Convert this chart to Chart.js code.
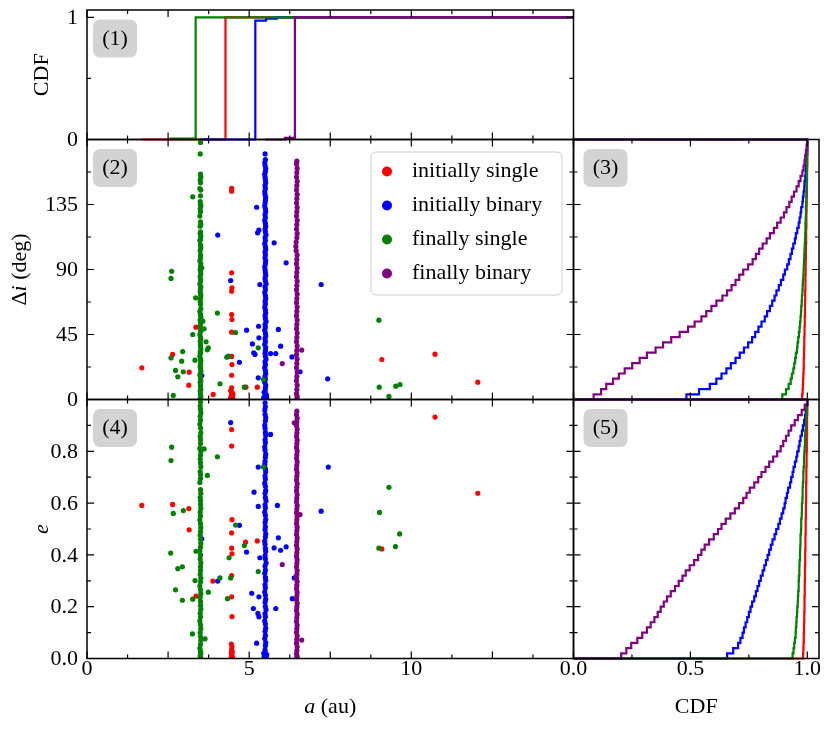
<!DOCTYPE html>
<html>
<head>
<meta charset="utf-8">
<script src="https://cdn.jsdelivr.net/npm/chart.js@4.4.0/dist/chart.umd.min.js"></script>
<style>
  body { margin: 0; background: #fff; }
  #wrap { position: relative; width: 830px; height: 729px; }
  #wrap canvas { position: absolute; left: 0; top: 0; }
</style>
</head>
<body>
<div id="wrap">
  <canvas id="p1" width="830" height="729"></canvas>
  <canvas id="p2" width="830" height="729"></canvas>
  <canvas id="p3" width="830" height="729"></canvas>
  <canvas id="p4" width="830" height="729"></canvas>
  <canvas id="p5" width="830" height="729"></canvas>
</div>
<script>
// ---- series names ----
var groupLabels = ['initially single', 'initially binary', 'finally single', 'finally binary'];

// ---- panel (1): CDF of a, step corners [a, CDF] ----
var cdfAIniSingle = [[1.69, 0], [4.27, 1], [15, 1]];
var cdfAIniBinary = [[3.5, 0], [5.19, 0.973], [5.52, 0.99], [5.85, 1], [15, 1]];
var cdfAFinSingle = [[2.55, 0], [2.58, 0.008], [3.35, 1], [15, 1]];
var cdfAFinBinary = [[5.5, 0], [6.1, 0.014], [6.41, 1], [15, 1]];

// ---- panel (2): [a, delta i] ----
var diIniSingle = [
  [4.46,146.1],[4.46,144.2],[4.46,87.7],[4.47,77.3],[4.46,75.0],[4.46,58.8],[4.47,55.4],[4.46,46.6],
  [4.46,29.8],[4.47,24.2],[4.46,16.8],[4.46,8.1],[4.47,4.6],[4.46,1.2],
  [4.43,6],[4.47,5],[4.50,3.5],[4.45,2.5],[4.48,2],[4.44,1.5],[4.49,1],[4.46,0.5],[4.50,0.3],[4.42,0.2],
  [3.36,50.1],[2.64,31.2],[1.69,21.9],[3.15,18.9],[3.14,9.9],[3.89,3.5],[4.90,8.5],[5.25,8.5],
  [9.09,27.7],[10.73,31.4],[12.05,12.0]
];
var diIniBinary = [
  [5.49,170],[5.50,166],[5.48,164],[5.49,162],[5.51,160],[5.50,158],[5.48,156],[5.49,154],[5.50,152],[5.51,150],
  [5.49,148],[5.50,146],[5.48,144],[5.49,142],[5.51,140],[5.50,138],[5.49,136],[5.48,134],[5.50,132],[5.51,130],
  [5.49,128],[5.50,126],[5.48,124],[5.50,122],[5.51,120],[5.49,118],[5.50,116],[5.52,114],[5.49,112],[5.50,110],
  [5.48,108],[5.50,106],[5.51,104],[5.49,102],[5.50,100],[5.49,98],[5.51,96],[5.50,94],[5.48,92],[5.49,90],
  [5.50,88],[5.51,86],[5.49,84],[5.50,82],[5.52,80],[5.49,78],[5.50,76],[5.48,74],[5.50,72],[5.51,70],
  [5.49,68],[5.50,66],[5.48,64],[5.50,62],[5.51,60],[5.49,58],[5.50,56],[5.52,54],[5.49,52],[5.50,50],
  [5.48,48],[5.50,46],[5.51,44],[5.49,42],[5.50,40],[5.48,38],[5.51,36],[5.50,34],[5.49,32],[5.50,30],
  [5.52,28],[5.49,26],[5.50,24],[5.48,22],[5.50,20],[5.51,18],[5.49,16],[5.50,14],[5.48,12],[5.51,10],
  [5.50,8],[5.49,6],[5.50,4],[5.52,3],[5.48,2],[5.50,1],[5.49,0.5],
  [5.46,5],[5.53,3],[5.45,1.5],[5.54,1],[5.47,0.3],
  [5.23,133.1],[4.03,113.8],[5.26,115.4],[5.30,117.2],[5.77,108.5],[6.14,94.6],[7.22,79.6],[4.43,82.4],
  [5.33,79.6],[4.92,48.0],[5.29,50.7],[5.30,42.7],[5.90,48.5],[5.10,38.5],[5.97,36.9],[5.66,31.8],
  [5.82,31.8],[5.14,32.3],[5.18,31.2],[4.70,25.8],[3.54,16.6],[5.28,15.0],[7.42,14.3],[6.57,19.2],[6.32,29.5]
];
var diFinSingle = [
  [3.50,178],[3.49,170],[3.50,156],[3.51,154],[3.49,152],[3.50,150],[3.48,146],[3.51,145],[3.50,141],[3.49,137],
  [3.50,135],[3.51,134],[3.49,132],[3.50,130],[3.48,127],[3.50,123],[3.51,121],[3.49,120],[3.50,116],[3.49,115],
  [3.51,113],[3.50,111],[3.48,110],[3.50,107],[3.51,105],[3.49,103],[3.50,100],[3.50,98],[3.48,96],[3.51,94],
  [3.50,92],[3.49,90],[3.50,89],[3.51,87],[3.49,85],[3.50,83],[3.50,82],[3.48,80],[3.51,78],[3.50,77],
  [3.49,75],[3.50,73],[3.51,72],[3.50,70],[3.49,68],[3.50,66],[3.51,63],[3.48,61],[3.50,59],[3.51,57],
  [3.49,55],[3.50,54],[3.50,52],[3.49,50],[3.51,48],[3.50,47],[3.48,45],[3.50,43],[3.51,42],[3.49,40],
  [3.50,38],[3.50,37],[3.51,35],[3.49,33],[3.50,32],[3.48,30],[3.50,28],[3.51,27],[3.50,25],[3.49,23],
  [3.50,22],[3.51,20],[3.50,18],[3.48,17],[3.50,15],[3.51,13],[3.49,12],[3.50,10],[3.50,9],[3.51,7],
  [3.49,6],[3.50,4],[3.50,3],[3.51,2],[3.49,1],[3.50,0.5],
  [3.26,140.3],[2.61,88.8],[2.59,83.8],[3.35,70.4],[3.54,91.2],[4.02,59.8],[3.57,54.2],[3.26,45.0],
  [3.61,48.9],[4.58,46.4],[3.67,39.9],[3.74,35.8],[3.71,34.4],[2.95,33.2],[2.59,28.8],[2.92,26.5],
  [3.33,27.2],[2.73,20.1],[2.97,19.2],[2.80,15.7],[4.10,10.9],[2.66,2.8],[4.36,30.0],[4.31,29.3],
  [4.85,8.5],[5.28,35.8],[5.44,13.8],
  [9.00,54.9],[9.01,8.5],[9.52,9.2],[9.65,10.4],[9.31,2.1]
];
var diFinBinary = [
  [6.47,165],[6.46,163],[6.48,160],[6.47,157],[6.46,154],[6.48,151],[6.47,148],[6.46,145],[6.48,142],[6.47,139],
  [6.46,136],[6.48,133],[6.47,130],[6.46,127],[6.48,124],[6.47,121],[6.46,118],[6.48,115],[6.47,112],[6.45,109],
  [6.44,106],[6.45,103],[6.48,100],[6.47,97],[6.46,94],[6.48,91],[6.47,88],[6.46,85],[6.48,82],[6.47,79],
  [6.46,76],[6.48,73],[6.47,70],[6.46,67],[6.48,64],[6.47,61],[6.46,58],[6.48,55],[6.47,52],[6.46,49],
  [6.48,46],[6.47,43],[6.46,40],[6.48,37],[6.47,34],[6.46,31],[6.48,28],[6.47,25],[6.46,22],[6.48,19],
  [6.47,16],[6.46,13],[6.48,10],[6.47,7],[6.46,4],[6.48,2],[6.47,0.5],
  [6.02,24.9],[6.62,34.2]
];

// ---- panel (4): [a, e] ----
var eIniSingle = [
  [4.46,0.884],[4.46,0.820],[4.47,0.536],[4.46,0.485],[4.46,0.426],[4.47,0.404],[4.46,0.320],[4.46,0.238],
  [4.47,0.162],[4.45,0.056],[4.47,0.045],[4.46,0.034],[4.48,0.026],[4.45,0.021],[4.47,0.015],[4.46,0.009],
  [4.48,0.005],[4.45,0.003],[4.47,0.001],
  [1.69,0.591],[2.64,0.595],[3.14,0.579],[3.15,0.497],[4.89,0.449],[5.25,0.454],[3.88,0.299],[3.36,0.241],
  [10.73,0.932],[12.05,0.638],[9.09,0.423]
];
var eIniBinary = [
  [5.49,0.987],[5.50,0.972],[5.48,0.959],[5.49,0.943],[5.51,0.930],[5.50,0.917],[5.48,0.901],[5.49,0.889],
  [5.50,0.873],[5.51,0.861],[5.49,0.845],[5.50,0.833],[5.48,0.817],[5.49,0.805],[5.51,0.789],[5.50,0.777],
  [5.49,0.761],[5.48,0.749],[5.50,0.733],[5.51,0.721],[5.49,0.705],[5.50,0.693],[5.48,0.677],[5.50,0.665],
  [5.51,0.649],[5.49,0.637],[5.50,0.621],[5.52,0.609],[5.49,0.593],[5.50,0.581],[5.48,0.565],[5.50,0.553],
  [5.51,0.537],[5.49,0.525],[5.50,0.509],[5.49,0.497],[5.51,0.481],[5.50,0.469],[5.48,0.453],[5.49,0.441],
  [5.50,0.425],[5.51,0.413],[5.49,0.397],[5.50,0.385],[5.52,0.369],[5.49,0.357],[5.50,0.341],[5.48,0.329],
  [5.50,0.313],[5.51,0.301],[5.49,0.285],[5.50,0.273],[5.48,0.257],[5.50,0.245],[5.51,0.229],[5.49,0.217],
  [5.50,0.201],[5.52,0.189],[5.49,0.173],[5.50,0.161],[5.48,0.145],[5.50,0.133],[5.51,0.117],[5.49,0.105],
  [5.50,0.089],[5.48,0.077],[5.51,0.061],[5.50,0.049],[5.49,0.033],[5.50,0.021],[5.52,0.011],[5.49,0.003],
  [5.45,0.020],[5.54,0.015],[5.46,0.008],[5.53,0.004],
  [4.43,0.911],[5.66,0.865],[5.28,0.739],[7.44,0.739],[5.15,0.642],[5.28,0.587],[5.87,0.591],[7.22,0.569],
  [4.70,0.514],[3.54,0.462],[4.92,0.411],[5.90,0.466],[5.77,0.427],[5.97,0.418],[6.14,0.431],[5.33,0.389],
  [4.03,0.299],[5.08,0.252],[5.30,0.238],[5.13,0.193],[5.82,0.193],[5.27,0.174],[5.30,0.161],[5.23,0.059],
  [6.39,0.311],[6.33,0.231]
];
var eFinSingle = [
  [3.50,0.990],[3.49,0.975],[3.50,0.962],[3.51,0.948],[3.49,0.935],[3.50,0.920],[3.48,0.905],[3.50,0.890],
  [3.51,0.872],[3.49,0.858],[3.50,0.845],[3.50,0.830],[3.48,0.812],[3.51,0.800],[3.50,0.785],[3.49,0.770],
  [3.50,0.755],[3.51,0.740],[3.49,0.722],[3.50,0.710],[3.50,0.695],[3.48,0.680],[3.50,0.652],[3.51,0.638],
  [3.49,0.622],[3.50,0.610],[3.50,0.595],[3.51,0.580],[3.49,0.565],[3.50,0.550],[3.48,0.535],[3.50,0.520],
  [3.51,0.505],[3.50,0.490],[3.49,0.476],[3.50,0.460],[3.51,0.445],[3.50,0.430],[3.48,0.415],[3.50,0.400],
  [3.49,0.385],[3.51,0.370],[3.50,0.355],[3.50,0.340],[3.49,0.325],[3.51,0.310],[3.50,0.295],[3.48,0.280],
  [3.50,0.265],[3.51,0.250],[3.49,0.235],[3.50,0.220],[3.50,0.205],[3.51,0.190],[3.49,0.175],[3.50,0.160],
  [3.48,0.145],[3.50,0.130],[3.51,0.115],[3.49,0.100],[3.50,0.085],[3.51,0.070],[3.50,0.055],[3.48,0.040],
  [3.50,0.028],[3.51,0.018],[3.49,0.010],[3.50,0.003],
  [2.61,0.816],[2.59,0.764],[4.02,0.779],[3.61,0.809],[3.71,0.707],[2.66,0.560],[2.97,0.571],[4.58,0.515],
  [3.36,0.414],[2.58,0.407],[4.85,0.436],[4.38,0.389],[2.80,0.347],[2.94,0.354],[3.33,0.301],[3.74,0.256],
  [4.10,0.311],[4.43,0.311],[2.73,0.265],[2.94,0.225],[3.26,0.229],[4.33,0.231],[3.25,0.095],[3.64,0.076],
  [5.28,0.336],[5.44,0.739],
  [9.31,0.661],[9.02,0.564],[9.64,0.481],[9.51,0.432],[9.00,0.426]
];
var eFinBinary = [
  [6.47,0.955],[6.46,0.941],[6.48,0.927],[6.47,0.913],[6.46,0.899],[6.48,0.885],[6.47,0.871],[6.46,0.857],
  [6.48,0.843],[6.47,0.829],[6.46,0.815],[6.48,0.801],[6.47,0.787],[6.46,0.773],[6.48,0.759],[6.47,0.745],
  [6.46,0.731],[6.48,0.717],[6.47,0.703],[6.46,0.689],[6.48,0.675],[6.47,0.661],[6.46,0.647],[6.48,0.633],
  [6.47,0.619],[6.46,0.605],[6.48,0.591],[6.47,0.577],[6.46,0.563],[6.48,0.549],[6.47,0.535],[6.46,0.521],
  [6.48,0.507],[6.47,0.493],[6.46,0.479],[6.48,0.465],[6.47,0.451],[6.46,0.437],[6.48,0.423],[6.47,0.409],
  [6.46,0.395],[6.48,0.381],[6.47,0.367],[6.46,0.353],[6.48,0.339],[6.47,0.325],[6.46,0.311],[6.48,0.297],
  [6.47,0.283],[6.46,0.269],[6.48,0.255],[6.47,0.241],[6.46,0.227],[6.48,0.213],[6.47,0.199],[6.46,0.185],
  [6.48,0.171],[6.47,0.157],[6.46,0.143],[6.48,0.129],[6.47,0.115],[6.46,0.101],[6.48,0.087],[6.47,0.073],
  [6.46,0.059],[6.48,0.045],[6.47,0.031],[6.46,0.018],[6.48,0.008],[6.47,0.002],
  [6.02,0.363],[6.39,0.910],[6.57,0.556],[6.62,0.071]
];

// ---- panel (3): cumulative fraction per delta-i bin (50 bins over 0-180 deg) ----
var diBinWidth = 3.6;
var cdfDiIniSingle = [0.978,0.980,0.981,0.982,0.983,0.984,0.985,0.985,0.986,0.986,
  0.987,0.987,0.988,0.988,0.989,0.989,0.990,0.990,0.990,0.991,
  0.991,0.992,0.992,0.992,0.993,0.993,0.993,0.994,0.994,0.994,
  0.995,0.995,0.995,0.996,0.996,0.996,0.997,0.997,0.997,0.998,
  0.998,0.998,0.999,0.999,0.999,1.000,1.000,1.000,1.000,1.000];
var cdfDiIniBinary = [0.483,0.537,0.583,0.611,0.633,0.654,0.673,0.693,0.711,0.729,
  0.747,0.764,0.777,0.791,0.804,0.818,0.828,0.840,0.850,0.860,
  0.868,0.878,0.887,0.897,0.904,0.914,0.921,0.928,0.934,0.940,
  0.947,0.951,0.957,0.963,0.967,0.971,0.974,0.979,0.981,0.984,
  0.987,0.988,0.991,0.993,0.994,0.996,0.997,0.999,1.000,1.000];
var cdfDiFinSingle = [0.893,0.909,0.920,0.929,0.934,0.940,0.944,0.948,0.951,0.956,
  0.958,0.961,0.964,0.967,0.969,0.971,0.973,0.974,0.976,0.977,
  0.979,0.980,0.981,0.983,0.984,0.985,0.986,0.987,0.988,0.989,
  0.990,0.991,0.992,0.992,0.993,0.994,0.994,0.995,0.996,0.996,
  0.997,0.997,0.998,0.998,0.999,0.999,0.999,1.000,1.000,1.000];
var cdfDiFinBinary = [0.086,0.118,0.140,0.169,0.194,0.219,0.251,0.283,0.314,0.351,
  0.383,0.418,0.454,0.490,0.518,0.547,0.568,0.590,0.611,0.637,
  0.657,0.676,0.693,0.709,0.726,0.747,0.766,0.780,0.794,0.809,
  0.826,0.840,0.857,0.871,0.886,0.900,0.911,0.923,0.933,0.943,
  0.954,0.963,0.971,0.979,0.984,0.988,0.991,0.994,0.997,1.000];

// ---- panel (5): cumulative fraction per e bin (50 bins over 0-1) ----
var eBinWidth = 0.02;
var cdfEIniSingle = [0.982,0.983,0.984,0.985,0.985,0.986,0.986,0.987,0.987,0.988,
  0.988,0.988,0.989,0.989,0.989,0.990,0.990,0.990,0.991,0.991,
  0.991,0.992,0.992,0.992,0.993,0.993,0.993,0.994,0.994,0.994,
  0.995,0.995,0.995,0.995,0.996,0.996,0.996,0.997,0.997,0.997,
  0.998,0.998,0.998,0.999,0.999,0.999,0.999,1.000,1.000,1.000];
var cdfEIniBinary = [0.657,0.683,0.704,0.714,0.723,0.729,0.736,0.743,0.750,0.757,
  0.764,0.773,0.780,0.787,0.794,0.801,0.809,0.816,0.823,0.830,
  0.837,0.844,0.851,0.860,0.867,0.876,0.883,0.890,0.897,0.903,
  0.907,0.913,0.918,0.926,0.931,0.937,0.941,0.947,0.953,0.957,
  0.963,0.967,0.971,0.977,0.981,0.986,0.990,0.993,0.997,1.000];
var cdfEFinSingle = [0.937,0.941,0.944,0.947,0.950,0.951,0.953,0.954,0.956,0.957,
  0.959,0.960,0.961,0.963,0.963,0.964,0.966,0.966,0.967,0.969,
  0.969,0.970,0.971,0.971,0.973,0.974,0.974,0.976,0.977,0.977,
  0.979,0.980,0.980,0.981,0.983,0.983,0.984,0.986,0.986,0.987,
  0.989,0.990,0.990,0.991,0.993,0.994,0.996,0.997,0.999,1.000];
var cdfEFinBinary = [0.204,0.226,0.247,0.273,0.294,0.314,0.330,0.346,0.360,0.373,
  0.386,0.400,0.416,0.434,0.450,0.466,0.480,0.497,0.516,0.533,
  0.547,0.561,0.580,0.600,0.618,0.633,0.651,0.671,0.690,0.708,
  0.726,0.740,0.754,0.773,0.790,0.804,0.821,0.837,0.854,0.871,
  0.886,0.897,0.909,0.920,0.931,0.946,0.960,0.976,0.989,1.000];

// ---- ticks ----
var aMajor = [0, 2.5, 5, 7.5, 10, 12.5, 15];
var aMinor = [1.25, 3.75, 6.25, 8.75, 11.25, 13.75];
var aTickLabels = [[0, '0'], [5, '5'], [10, '10']];
var cdfMajor = [0, 0.5, 1];
var cdfMinor = [0.25, 0.75];
var cdfTickLabels = [[0, '0.0'], [0.5, '0.5'], [1, '1.0']];
var cdfAMajor = [0, 1];
var cdfAMinor = [0.5];
var cdfATickLabels = [[0, '0'], [1, '1']];
var diMajor = [0, 45, 90, 135, 180];
var diMinor = [22.5, 67.5, 112.5, 157.5];
var diTickLabels = [[0, '0'], [45, '45'], [90, '90'], [135, '135']];
var eMajor = [0, 0.2, 0.4, 0.6, 0.8, 1.0];
var eMinor = [0.1, 0.3, 0.5, 0.7, 0.9];
var eTickLabels = [[0, '0.0'], [0.2, '0.2'], [0.4, '0.4'], [0.6, '0.6'], [0.8, '0.8']];

// ---- look ----
var W = 830, H = 729;
var colors = ['#ff0000', '#0000ff', '#008000', '#800080'];
var FONT = '"Liberation Serif", "DejaVu Serif", serif';

function xy(pairs) {
  return pairs.map(function (p) { return { x: p[0], y: p[1] }; });
}
// horizontal cumulative histogram outline: x = cdf, y = bin edges
function histOutline(cdf, width) {
  var pts = [{ x: 0, y: 0 }];
  cdf.forEach(function (c, k) { pts.push({ x: c, y: (k + 1) * width }); });
  pts.push({ x: 0, y: cdf.length * width });
  return pts;
}
function scatterSet(i, pairs) {
  return {
    label: groupLabels[i], data: xy(pairs), backgroundColor: colors[i],
    borderWidth: 0, pointRadius: 2.6, pointHoverRadius: 2.6, clip: 0, order: 4 - i
  };
}
function lineSet(i, pts) {
  return {
    label: groupLabels[i], data: pts, showLine: true, stepped: true,
    borderColor: colors[i], backgroundColor: colors[i], borderWidth: 2.2,
    pointRadius: 0, fill: false, clip: false, order: 4 - i
  };
}

var frames = {
  p1: { rect: [87, 10, 573.5, 139.5], tag: '(1)', tagDx: 6,
        x: { major: aMajor, minor: aMinor },
        y: { major: cdfAMajor, minor: cdfAMinor, labels: cdfATickLabels },
        yTitle: { parts: [['CDF', false]], x: 42 } },
  p2: { rect: [87, 139.5, 573.5, 399.5], tag: '(2)', tagDx: 6, legend: true,
        x: { major: aMajor, minor: aMinor },
        y: { major: diMajor, minor: diMinor, labels: diTickLabels },
        yTitle: { parts: [['\u0394', false], ['i', true], [' (deg)', false]], x: 20 } },
  p3: { rect: [573.5, 139.5, 819, 399.5], tag: '(3)', tagDx: 10,
        x: { major: cdfMajor, minor: cdfMinor },
        y: { major: diMajor, minor: diMinor } },
  p4: { rect: [87, 399.5, 573.5, 658.5], tag: '(4)', tagDx: 6,
        x: { major: aMajor, minor: aMinor, labels: aTickLabels },
        y: { major: eMajor, minor: eMinor, labels: eTickLabels },
        yTitle: { parts: [['e', true]], x: 42 },
        xTitle: { parts: [['a', true], [' (au)', false]], y: 707 } },
  p5: { rect: [573.5, 399.5, 819, 658.5], tag: '(5)', tagDx: 10,
        x: { major: cdfMajor, minor: cdfMinor, labels: cdfTickLabels },
        y: { major: eMajor, minor: eMinor },
        xTitle: { parts: [['CDF', false]], y: 707 } }
};

function richWidth(ctx, parts) {
  var w = 0;
  parts.forEach(function (p) { ctx.font = (p[1] ? 'italic ' : '') + '22px ' + FONT; w += ctx.measureText(p[0]).width; });
  return w;
}
function richDraw(ctx, parts, cx, cy) {
  var x = cx - richWidth(ctx, parts) / 2;
  ctx.textAlign = 'left';
  ctx.textBaseline = 'middle';
  parts.forEach(function (p) {
    ctx.font = (p[1] ? 'italic ' : '') + '22px ' + FONT;
    ctx.fillText(p[0], x, cy);
    x += ctx.measureText(p[0]).width;
  });
}
function roundRect(ctx, x, y, w, h, r) {
  ctx.beginPath();
  ctx.moveTo(x + r, y);
  ctx.arcTo(x + w, y, x + w, y + h, r);
  ctx.arcTo(x + w, y + h, x, y + h, r);
  ctx.arcTo(x, y + h, x, y, r);
  ctx.arcTo(x, y, x + w, y, r);
  ctx.closePath();
}

var framePlugin = {
  id: 'frame',
  afterDatasetsDraw: function (chart) {
    var f = frames[chart.canvas.id];
    var ctx = chart.ctx, a = chart.chartArea;
    var sx = chart.scales.x, sy = chart.scales.y;
    ctx.save();
    // inward ticks on all four sides
    ctx.strokeStyle = '#000';
    ctx.lineWidth = 1.2;
    ctx.beginPath();
    function xt(vals, len) {
      vals.forEach(function (v) {
        var p = sx.getPixelForValue(v);
        ctx.moveTo(p, a.bottom); ctx.lineTo(p, a.bottom - len);
        ctx.moveTo(p, a.top); ctx.lineTo(p, a.top + len);
      });
    }
    function yt(vals, len) {
      vals.forEach(function (v) {
        var p = sy.getPixelForValue(v);
        ctx.moveTo(a.left, p); ctx.lineTo(a.left + len, p);
        ctx.moveTo(a.right, p); ctx.lineTo(a.right - len, p);
      });
    }
    xt(f.x.major, 7); xt(f.x.minor, 4);
    yt(f.y.major, 7); yt(f.y.minor, 4);
    ctx.stroke();
    ctx.lineWidth = 1.5;
    ctx.strokeRect(a.left, a.top, a.right - a.left, a.bottom - a.top);

    // tick labels
    ctx.fillStyle = '#000';
    ctx.font = '22px ' + FONT;
    if (f.x.labels) {
      ctx.textAlign = 'center'; ctx.textBaseline = 'middle';
      f.x.labels.forEach(function (l) { ctx.fillText(l[1], sx.getPixelForValue(l[0]), a.bottom + 11); });
    }
    if (f.y.labels) {
      ctx.textAlign = 'right'; ctx.textBaseline = 'middle';
      f.y.labels.forEach(function (l) { ctx.fillText(l[1], a.left - 9, sy.getPixelForValue(l[0]) + 1); });
    }
    // axis titles
    if (f.yTitle) {
      ctx.save();
      ctx.translate(f.yTitle.x, (a.top + a.bottom) / 2);
      ctx.rotate(-Math.PI / 2);
      richDraw(ctx, f.yTitle.parts, 0, 0);
      ctx.restore();
    }
    if (f.xTitle) richDraw(ctx, f.xTitle.parts, (a.left + a.right) / 2, f.xTitle.y);

    // panel tag
    ctx.fillStyle = '#d3d3d3';
    roundRect(ctx, a.left + f.tagDx, a.top + 9.5, 44, 38, 7);
    ctx.fill();
    ctx.fillStyle = '#000';
    ctx.font = '22px ' + FONT;
    ctx.textAlign = 'center'; ctx.textBaseline = 'middle';
    ctx.fillText(f.tag, a.left + f.tagDx + 22, a.top + 29);

    // legend
    if (f.legend) {
      var lx = 371, ly = 152, lw = 191, lh = 143;
      ctx.fillStyle = 'rgba(255,255,255,0.85)';
      ctx.strokeStyle = '#cccccc';
      ctx.lineWidth = 1;
      roundRect(ctx, lx, ly, lw, lh, 5);
      ctx.fill(); ctx.stroke();
      chart.data.datasets.forEach(function (ds, i) {
        var yy = ly + 19.5 + i * 34;
        ctx.fillStyle = ds.backgroundColor;
        ctx.beginPath(); ctx.arc(lx + 16, yy, 5, 0, Math.PI * 2); ctx.fill();
        ctx.fillStyle = '#000';
        ctx.font = '22px ' + FONT;
        ctx.textAlign = 'left'; ctx.textBaseline = 'middle';
        ctx.fillText(ds.label, lx + 41, yy);
      });
    }
    ctx.restore();
  }
};

function makeChart(id, xr, yr, datasets) {
  var r = frames[id].rect;
  return new Chart(document.getElementById(id), {
    type: 'scatter',
    data: { datasets: datasets },
    options: {
      responsive: false, animation: false, events: [],
      layout: { autoPadding: false, padding: { left: r[0], top: r[1], right: W - r[2], bottom: H - r[3] } },
      scales: {
        x: { type: 'linear', min: xr[0], max: xr[1], display: false },
        y: { type: 'linear', min: yr[0], max: yr[1], display: false }
      },
      plugins: { legend: { display: false }, tooltip: { enabled: false } }
    },
    plugins: [framePlugin]
  });
}

makeChart('p1', [0, 15], [0, 1.06], [
  lineSet(0, xy(cdfAIniSingle)), lineSet(1, xy(cdfAIniBinary)),
  lineSet(2, xy(cdfAFinSingle)), lineSet(3, xy(cdfAFinBinary))
]);
makeChart('p2', [0, 15], [0, 180], [
  scatterSet(0, diIniSingle), scatterSet(1, diIniBinary),
  scatterSet(2, diFinSingle), scatterSet(3, diFinBinary)
]);
makeChart('p3', [0, 1.05], [0, 180], [
  lineSet(0, histOutline(cdfDiIniSingle, diBinWidth)), lineSet(1, histOutline(cdfDiIniBinary, diBinWidth)),
  lineSet(2, histOutline(cdfDiFinSingle, diBinWidth)), lineSet(3, histOutline(cdfDiFinBinary, diBinWidth))
]);
makeChart('p4', [0, 15], [0, 1], [
  scatterSet(0, eIniSingle), scatterSet(1, eIniBinary),
  scatterSet(2, eFinSingle), scatterSet(3, eFinBinary)
]);
makeChart('p5', [0, 1.05], [0, 1], [
  lineSet(0, histOutline(cdfEIniSingle, eBinWidth)), lineSet(1, histOutline(cdfEIniBinary, eBinWidth)),
  lineSet(2, histOutline(cdfEFinSingle, eBinWidth)), lineSet(3, histOutline(cdfEFinBinary, eBinWidth))
]);
</script>
</body>
</html>
